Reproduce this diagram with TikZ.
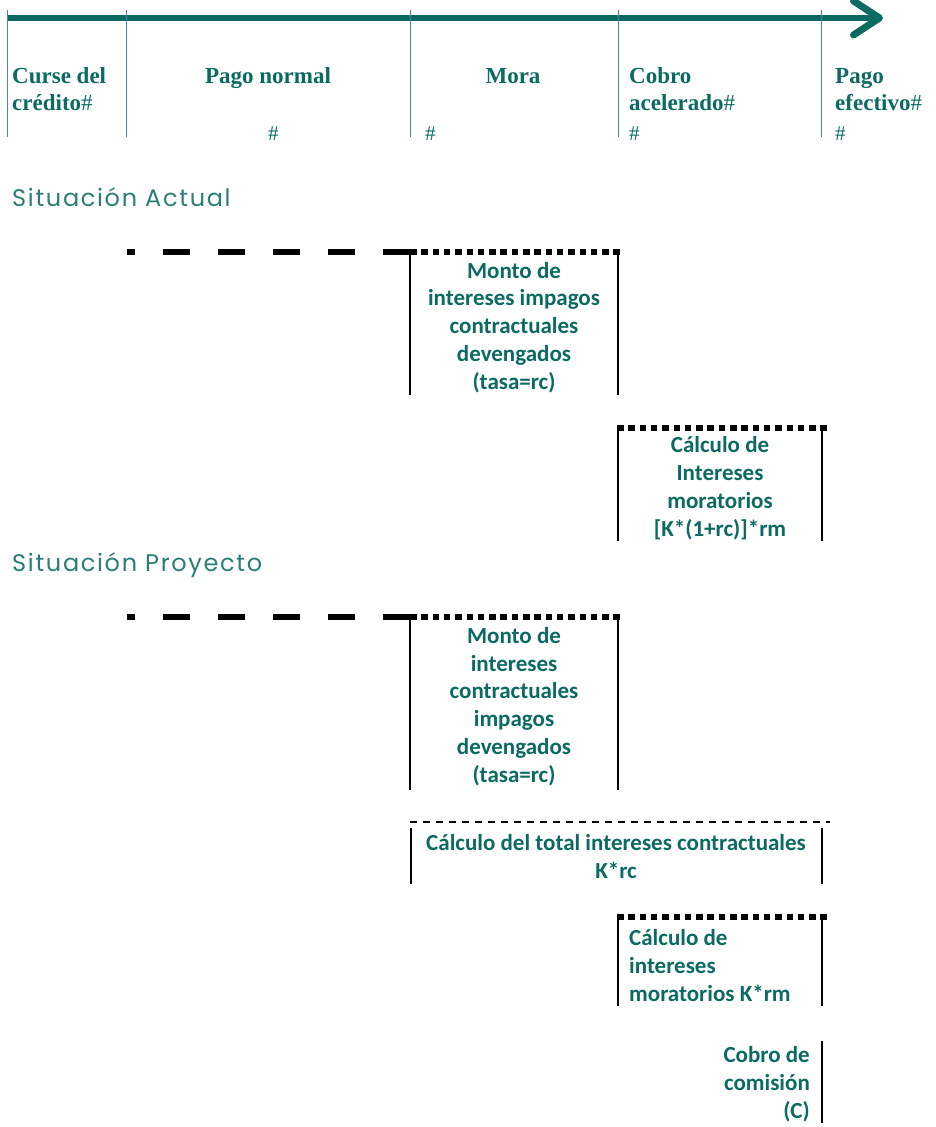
\documentclass[tikz,border=0pt]{standalone}
\usepackage{fontspec}
\setmainfont{Carlito}
\newfontfamily\hdrfont{Liberation Serif}
\newfontfamily\titfont[LetterSpace=7]{Poppins}
\usetikzlibrary{arrows.meta}

\definecolor{tealdark}{HTML}{0B6A62}
\definecolor{tealtitle}{HTML}{2A7E77}
\definecolor{axisblue}{HTML}{4F81BD}

\tikzset{
  phase/.style={font=\hdrfont\bfseries\fontsize{23}{27}\selectfont, text=tealdark, inner sep=0pt, align=left},
  hash/.style={font=\hdrfont\fontsize{21}{21}\selectfont, text=tealdark, inner sep=0pt, anchor=base west},
  situacion/.style={font=\titfont\fontsize{24}{24}\selectfont, text=tealtitle, inner sep=0pt, anchor=base west},
  boxtext/.style={font=\bfseries\fontsize{23}{27.7}\selectfont, text=tealdark, inner sep=0pt, anchor=base},
  bar/.style={line width=2.4pt},
  bigdash/.style={line width=6pt, dash pattern=on 27pt off 28pt},
  dots/.style={line width=6pt, dash pattern=on 6.5pt off 4.8pt},
  thindash/.style={line width=1.5pt, dash pattern=on 7pt off 6pt}
}

\begin{document}
\begin{tikzpicture}[x=1pt,y=-1pt]
\useasboundingbox (0,0) rectangle (935,1127);

\def \axisy {18}
\def \shift {365}

% time axis
\coordinate (start) at (7,\axisy);
\coordinate (tip) at (883,\axisy);
\draw[tealdark, line width=6pt, -{Straight Barb[length=26pt, width=34pt, round, line width=7pt]}] (start) -- (tip);
\foreach \x in {7,126,410,618,821}
{
  \draw[axisblue, line width=0.9pt] (\x,10) -- (\x,137);
}

% base anchor sits on the last line
\node[phase, anchor=base west] (curse) at (12,110) {Curse del\\cr\'edito{\mdseries\#}};
\node[phase, anchor=base] (normal) at (268,83) {Pago normal};
\node[phase, anchor=base] (mora) at (513,83) {Mora};
\node[phase, anchor=base west] (cobro) at (629,110) {Cobro\\acelerado{\mdseries\#}};
\node[phase, anchor=base west] (efectivo) at (835,110) {Pago\\efectivo{\mdseries\#}};
\node[hash] (h1) at (268,140) {\#};
\node[hash] (h2) at (425,140) {\#};
\node[hash] (h3) at (629,140) {\#};
\node[hash] (h4) at (835,140) {\#};

% situacion actual
\node[situacion] (actual) at (12,206) {Situaci\'on Actual};

\draw[bigdash] (410,252) -- (127,252);
\draw[dots] (410,252) -- (620,252);
\draw[bar] (410,252) -- (410,395);
\draw[bar] (618,252) -- (618,395);
\node[boxtext, align=center] (montoA) at (514,389)
  {Monto de\\intereses impagos\\contractuales\\devengados\\(tasa=rc)};

\draw[dots] (617,428) -- (830,428);
\draw[bar] (618,428) -- (618,541);
\draw[bar] (822,428) -- (822,541);
\node[boxtext, align=center] (calcA) at (720,536)
  {C\'alculo de\\Intereses\\moratorios\\{[K*(1+rc)]*rm}};

% situacion proyecto
\node[situacion] (proyecto) at (12,571) {Situaci\'on Proyecto};

\draw[bigdash] (410,252+\shift) -- (127,252+\shift);
\draw[dots] (410,252+\shift) -- (620,252+\shift);
\draw[bar] (410,617) -- (410,790);
\draw[bar] (618,617) -- (618,790);
\node[boxtext, align=center] (montoB) at (514,782)
  {Monto de\\intereses\\contractuales\\impagos\\devengados\\(tasa=rc)};

\draw[thindash] (410,822) -- (830,822);
\draw[bar] (411,828) -- (411,884);
\draw[bar] (822,828) -- (822,884);
\node[boxtext, align=center] (totalB) at (616,878)
  {C\'alculo del total intereses contractuales\\K*rc};

\draw[dots] (617,917) -- (830,917);
\draw[bar] (618,917) -- (618,1006);
\draw[bar] (822,917) -- (822,1006);
\node[boxtext, anchor=base west, align=left] (calcB) at (629,1001)
  {C\'alculo de\\intereses\\moratorios K*rm};

\draw[bar] (822,1041) -- (822,1123);
\node[boxtext, anchor=base east, align=right] (comision) at (810,1118)
  {Cobro de\\comisi\'on\\(C)};
\end{tikzpicture}
\end{document}
